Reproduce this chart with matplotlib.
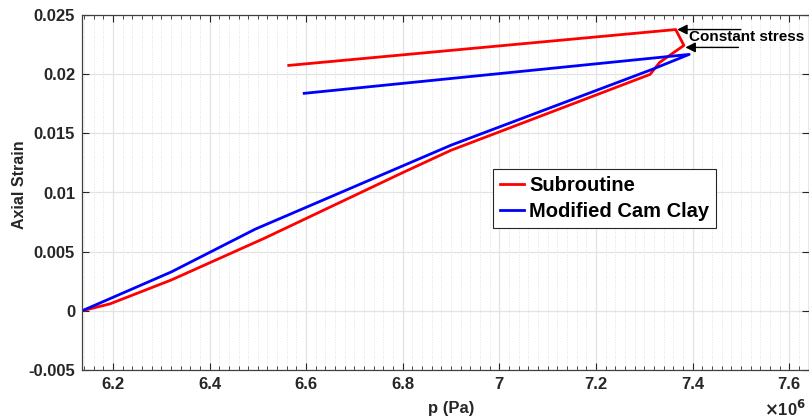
import matplotlib
matplotlib.use("Agg")
import matplotlib.pyplot as plt
from matplotlib.ticker import MultipleLocator, FuncFormatter, FixedLocator

plt.rcParams['font.family'] = ['Liberation Sans', 'DejaVu Sans']
plt.rcParams['font.weight'] = 'bold'
plt.rcParams['axes.unicode_minus'] = False

# Data (p in units of 1e6 Pa)
sub_p = [6.136, 6.194, 6.321, 6.515, 6.802, 6.900, 7.312, 7.332, 7.382, 7.365, 6.564]
sub_e = [0.0, 0.00059, 0.00261, 0.00616, 0.01172, 0.01357, 0.01998, 0.02100, 0.02243, 0.02377, 0.02074]

mcc_p = [6.136, 6.321, 6.495, 6.900, 7.316, 7.393, 6.596]
mcc_e = [0.0, 0.00329, 0.00691, 0.01400, 0.02040, 0.02167, 0.01838]

x_ticks = [6.2, 6.4, 6.6, 6.8, 7.0, 7.2, 7.4, 7.6]
y_ticks = [-0.005, 0, 0.005, 0.01, 0.015, 0.02, 0.025]

W, H = 809, 419
fig = plt.figure(figsize=(W / 100, H / 100), dpi=100)
ax = fig.add_axes([82 / W, 1 - 370 / H, (809 - 82) / W, (370 - 15) / H])

ax.plot(sub_p, sub_e, color='#ff0000', lw=2.0, label='Subroutine')
ax.plot(mcc_p, mcc_e, color='#0000ff', lw=2.0, label='Modified Cam Clay')

ax.set_xlim(6.136, 7.641)
ax.set_ylim(-0.005, 0.025)
ax.xaxis.set_major_locator(FixedLocator(x_ticks))
ax.yaxis.set_major_locator(FixedLocator(y_ticks))
ax.xaxis.set_minor_locator(MultipleLocator(0.02))
fmt = FuncFormatter(lambda v, pos: ('%g' % round(v, 6)))
ax.xaxis.set_major_formatter(fmt)
ax.yaxis.set_major_formatter(fmt)

ax.grid(True, which='major', color='#e3e3e3', lw=0.9, ls='-')
ax.grid(True, which='minor', axis='x', color='#d8d8d8', lw=0.6, ls=(0, (1, 2)))
ax.set_axisbelow(True)

for s in ax.spines.values():
    s.set_color('#404040')
    s.set_linewidth(0.9)
ax.tick_params(which='both', direction='in', top=True, right=True, colors='#262626',
               labelsize=12)
ax.tick_params(which='major', length=5, width=0.8, pad=5)
ax.tick_params(which='minor', length=3, width=0.6)
for lab in ax.get_xticklabels() + ax.get_yticklabels():
    lab.set_fontweight('bold')

ax.set_xlabel('p (Pa)', fontsize=12, fontweight='bold', color='#262626')
ax.set_ylabel('Axial Strain', fontsize=11.5, fontweight='bold', color='#262626')
ax.xaxis.set_label_coords((451 - 82) / (809 - 82), -(408 - 370) / (370 - 15), transform=ax.transAxes)
ax.xaxis.label.set_va('center')
ax.yaxis.set_label_coords(-(82 - 20) / (809 - 82), (370 - 185) / (370 - 15))
ax.yaxis.label.set_va('center')

fig.text(806 / W, 1 - 409 / H, r'$\times$10$^{6}$', fontsize=12, fontweight='bold',
         color='#262626', va='center', ha='right')

leg = ax.legend(loc='upper left', bbox_to_anchor=(493 / W, 1 - 169 / H),
                bbox_transform=fig.transFigure, fontsize=14.5, frameon=True,
                fancybox=False, edgecolor='#262626', framealpha=1,
                handlelength=1.2, handletextpad=0.25, borderpad=0.35,
                labelspacing=0.35, borderaxespad=0)
leg.get_frame().set_linewidth(0.8)
for t in leg.get_texts():
    t.set_fontweight('bold')

ax.annotate('', xy=(7.368, 0.02377), xytext=(7.50, 0.02377),
            arrowprops=dict(arrowstyle='-|>', color='k', lw=1.0, mutation_scale=15,
                            shrinkA=0, shrinkB=0))
ax.annotate('', xy=(7.385, 0.02226), xytext=(7.495, 0.02226),
            arrowprops=dict(arrowstyle='-|>', color='k', lw=1.0, mutation_scale=15,
                            shrinkA=0, shrinkB=0))
ax.text(7.392, 0.0231, 'Constant stress', fontsize=11, fontweight='bold',
        color='k', va='center', ha='left', clip_on=False)

fig.savefig('out.png', dpi=100)
